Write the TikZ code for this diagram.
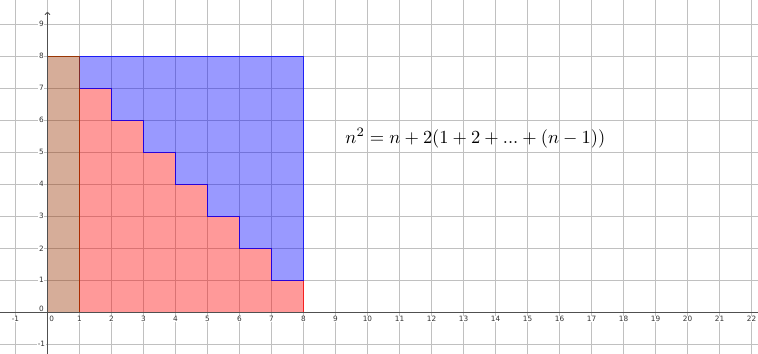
\documentclass[tikz,border=0pt]{standalone}
\usepackage{fontspec}
\newfontfamily\lblfont{DejaVu Sans}
\usetikzlibrary{arrows.meta}
\definecolor{gridc}{RGB}{192,192,192}
\definecolor{axisc}{RGB}{80,80,80}
\definecolor{brownc}{RGB}{153,51,0}
\tikzset{
  gridline/.style={draw=gridc, line width=1pt},
  ticklbl/.style={font=\lblfont\fontsize{6.5}{7}\selectfont, text=black!80, fill=white, inner sep=0.6pt},
  axisline/.style={draw=axisc, line width=0.8pt},
  brownpoly/.style={fill=brownc, fill opacity=0.4, draw=brownc, draw opacity=0.8, line width=0.8pt},
  redpoly/.style={fill=red, fill opacity=0.4, draw=red, draw opacity=0.8, line width=0.8pt},
  bluepoly/.style={fill=blue, fill opacity=0.4, draw=blue, draw opacity=0.8, line width=0.8pt},
}
\begin{document}
\begin{tikzpicture}[x=1cm,y=1cm]
\useasboundingbox (-1.484,-1.303) rectangle (22.203,9.759);
% grid
\foreach \i in {-1,...,22} {\draw[gridline] (\i,-1.303) -- (\i,9.759);}
\foreach \j in {-1,...,9} {\draw[gridline] (-1.484,\j) -- (22.203,\j);}
% labels
\foreach \i in {-1,1,2,...,22} {\node[ticklbl] (x\i) at (\i,-0.21) {\i};}
\node[ticklbl] (x0) at (0.13,-0.21) {0};
\foreach \j in {-1,1,2,...,9} {\node[ticklbl] (y\j) at (-0.19,\j) {\j};}
\node[ticklbl] (y0) at (-0.19,0.1) {0};
% regions
\fill[brownpoly] (0,0) rectangle (1,8);
\filldraw[redpoly] (1,0) -- (8,0) -- (8,1) -- (7,1) -- (7,2) -- (6,2) -- (6,3) -- (5,3) -- (5,4) -- (4,4) -- (4,5) -- (3,5) -- (3,6) -- (2,6) -- (2,7) -- (1,7) -- cycle;
\filldraw[bluepoly] (1,8) -- (8,8) -- (8,1) -- (7,1) -- (7,2) -- (6,2) -- (6,3) -- (5,3) -- (5,4) -- (4,4) -- (4,5) -- (3,5) -- (3,6) -- (2,6) -- (2,7) -- (1,7) -- cycle;
\draw[brownpoly, fill=none] (0,0) rectangle (1,8);
% axes
\coordinate (xa) at (-1.484,0);
\coordinate (xb) at (22.203,0);
\coordinate (ya) at (0,-1.303);
\coordinate (yb) at (0,9.39);
\draw[axisline] (xa) -- (xb);
\draw[axisline, -{Straight Barb[length=2pt,width=4.5pt]}] (ya) -- (yb);
% formula
\node[anchor=base west, scale=1.64, inner sep=0pt] (f) at (9.3,5.29) {$n^2 = n + 2(1+2+...+(n-1))$};
\end{tikzpicture}
\end{document}
